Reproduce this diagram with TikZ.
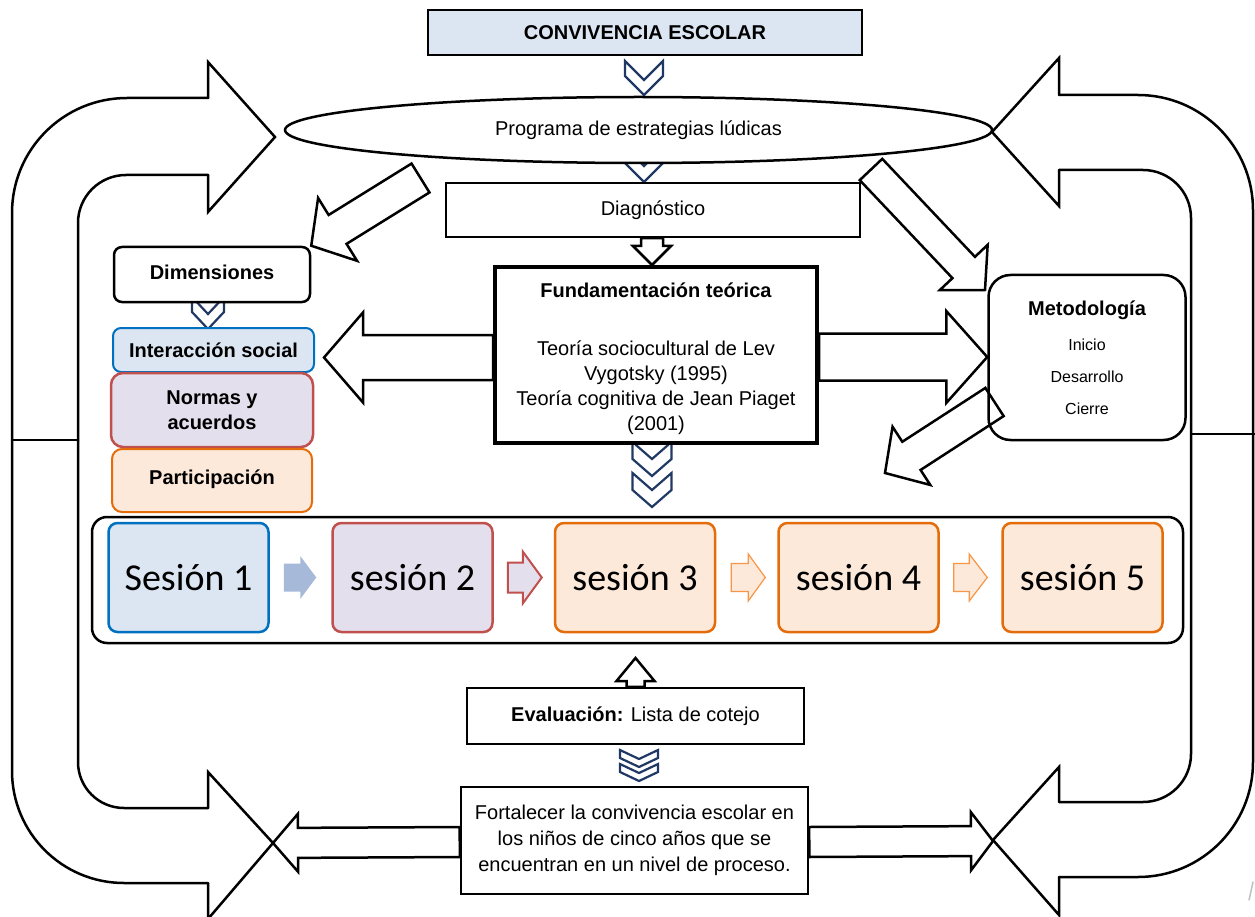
\documentclass[tikz,border=0pt]{standalone}
\usepackage{fontspec}
\setmainfont{Liberation Sans}
\newfontfamily\calibfont{Carlito}
\usepackage{tikz}
\usetikzlibrary{calc,shapes.geometric}
\definecolor{blueF}{RGB}{220,230,242}
\definecolor{blueD}{RGB}{0,112,192}
\definecolor{redD}{RGB}{192,80,77}
\definecolor{lilaF}{RGB}{228,223,236}
\definecolor{orangeD}{RGB}{228,108,10}
\definecolor{orangeF}{RGB}{253,233,217}
\definecolor{orangeL}{RGB}{247,150,70}
\definecolor{arrowB}{RGB}{167,185,216}
\definecolor{navy}{RGB}{31,56,100}
\tikzset{
  box/.style={draw=black,line width=2.5pt,fill=white,inner sep=0pt,align=center},
  rbox/.style={box,rounded corners=10pt},
  sesbox/.style={draw,line width=2.5pt,rounded corners=9pt,inner sep=0pt,minimum width=160pt,minimum height=109pt,font=\calibfont\fontsize{38}{40}\selectfont},
  barr/.style={draw=black,line width=2.5pt},
  bigarr/.style={draw=black,line width=2.5pt},
  chevron/.style={draw=navy,line width=2.2pt,fill=white,line join=miter}
}
\newcommand{\blockarr}[6][]{%
  \coordinate (ba-n) at ($#3!#6!#2$);
  \draw[barr,#1] ($#2!#4!90:#3$) -- ($(ba-n)!#4!90:#3$) -- ($(ba-n)!#5!90:#3$) -- #3 -- ($(ba-n)!#5!-90:#3$) -- ($(ba-n)!#4!-90:#3$) -- ($#2!#4!-90:#3$) -- cycle;}
\newcommand{\chev}[5]{\draw[chevron] ({#1-#3},#2) -- (#1,{#2+#5}) -- ({#1+#3},#2) -- ({#1+#3},{#2+#4}) -- (#1,{#2+#4+#5}) -- ({#1-#3},{#2+#4}) -- cycle;}

\begin{document}
\begin{tikzpicture}[x=1pt,y=-1pt,line cap=round,font=\fontsize{20}{25}\selectfont]
\useasboundingbox (0,0) rectangle (1255,917);

\draw[bigarr,rounded corners=115pt] (12,440) -- (12,98) -- (208,98);
\draw[bigarr] (208,98) -- (208,62) -- (275,137) -- (208,212) -- (208,175);
\draw[bigarr,rounded corners=48pt] (208,175) -- (78,175) -- (78,440);
\draw[bigarr] (12,440) -- (78,440);
\draw[bigarr,rounded corners=112pt] (12,440) -- (12,883) -- (208,883);
\draw[bigarr] (208,883) -- (208,919) -- (273,843) -- (208,772) -- (208,808);
\draw[bigarr,rounded corners=46pt] (208,808) -- (78,808) -- (78,440);

\draw[bigarr,rounded corners=115pt] (1253,434) -- (1253,95) -- (1059,95);
\draw[bigarr] (1059,95) -- (1059,58) -- (992,132) -- (1059,206) -- (1059,170);
\draw[bigarr,rounded corners=48pt] (1059,170) -- (1191,170) -- (1191,434);
\draw[bigarr] (1191,434) -- (1255,434);
\draw[bigarr,rounded corners=115pt] (1253,434) -- (1253,877) -- (1059,877);
\draw[bigarr] (1059,877) -- (1059,915) -- (993,840) -- (1059,767) -- (1059,802);
\draw[bigarr,rounded corners=48pt] (1059,802) -- (1191,802) -- (1191,434);

\chev{644}{61}{19}{15}{19}
\chev{644}{147}{19}{16}{19}
\chev{652}{442}{19.5}{17}{17}
\chev{652}{473}{19.5}{17}{17}
\chev{639}{750}{19}{8}{9}
\chev{639}{764}{19}{8}{9}
\chev{208}{297}{16}{15}{17}

\node[box,fill=blueF,minimum width=434pt,minimum height=45pt] (conv) at (645,32.5) {\bfseries CONVIVENCIA ESCOLAR};
\node[draw,ellipse,line width=2.5pt,fill=white,inner sep=0pt,minimum width=707pt,minimum height=66pt] (prog) at (638.5,130) {\raisebox{-2pt}{Programa de estrategias lúdicas}};
\node[box,minimum width=414pt,minimum height=54pt] (diag) at (653,210) {\raisebox{4pt}{Diagnóstico}};
\node[box,line width=4pt,minimum width=322pt,minimum height=176pt] (fund) at (656,355) {\rule{0pt}{23pt}\textbf{Fundamentación teórica}\\[33pt]Teoría sociocultural de Lev\\Vygotsky (1995)\\Teoría cognitiva de Jean Piaget\\(2001)};
\node[rbox,rounded corners=8pt,minimum width=196pt,minimum height=55pt] (dim) at (212,274.5) {\raisebox{4pt}{\bfseries Dimensiones}};
\node[rbox,rounded corners=8pt,line width=2pt,draw=blueD,fill=blueF,minimum width=201pt,minimum height=44pt] (inter) at (213.5,350) {\bfseries Interacción social};
\node[rbox,rounded corners=12pt,draw=redD,fill=lilaF,minimum width=202pt,minimum height=74pt] (norm) at (212,410) {\bfseries Normas y\\\bfseries acuerdos};
\node[rbox,rounded corners=10pt,line width=2pt,draw=orangeD,fill=orangeF,minimum width=200pt,minimum height=63pt] (part) at (212,480.5) {\raisebox{6pt}{\bfseries Participación}};
\node[rbox,rounded corners=22pt,minimum width=197pt,minimum height=165pt,font=\fontsize{16}{32}\selectfont] (metod) at (1087,357.5) {{\fontsize{20}{25}\selectfont\bfseries Metodología}\\[3.5pt]Inicio\\Desarrollo\\Cierre};

\node[rbox,rounded corners=15pt,minimum width=1091pt,minimum height=126pt] (frame) at (637.5,580) {};
\node[sesbox,draw=blueD,fill=blueF] (s1) at (188.5,577.5) {Sesión 1};
\node[sesbox,draw=redD,fill=lilaF] (s2) at (412.5,577.5) {sesión 2};
\node[sesbox,draw=orangeD,fill=orangeF] (s3) at (635,577.5) {sesión 3};
\node[sesbox,draw=orangeD,fill=orangeF] (s4) at (858.5,577.5) {sesión 4};
\node[sesbox,draw=orangeD,fill=orangeF] (s5) at (1082.5,577.5) {sesión 5};

\node[box,minimum width=337pt,minimum height=56pt] (eval) at (635.5,716) {\raisebox{2pt}{\textbf{Evaluación:} Lista de cotejo}};
\node[box,minimum width=347pt,minimum height=107pt,font=\fontsize{20}{26}\selectfont] (fort) at (634.5,840.5) {Fortalecer la convivencia escolar en\\los niños de cinco años que se\\encuentran en un nivel de proceso.};

\blockarr[draw=none,fill=arrowB]{([xshift=14pt]s1.east)}{([xshift=-15pt]s2.west)}{14pt}{21.5pt}{16pt}
\blockarr[draw=redD,fill=lilaF,line width=2pt]{([xshift=14pt]s2.east)}{([xshift=-12pt]s3.west)}{15pt}{26pt}{19pt}
\blockarr[draw=orangeL,fill=orangeF,line width=1.2pt]{([xshift=15pt]s3.east)}{([xshift=-12pt]s4.west)}{14pt}{23.5pt}{17pt}
\blockarr[draw=orangeL,fill=orangeF,line width=1.2pt]{([xshift=14pt]s4.east)}{([xshift=-14pt]s5.west)}{14pt}{23.5pt}{18pt}

\blockarr{(652,0 |- diag.south)}{(652,0 |- fund.north)}{11pt}{19pt}{19pt}
\blockarr{(fund.west |- 0,357.5)}{(324,357.5)}{22.5pt}{45pt}{39pt}
\blockarr{(fund.east |- 0,357)}{(metod.west |- 0,357)}{23.5pt}{46pt}{41pt}
\blockarr{(420.5,178)}{(dim.north east)}{17pt}{37pt}{31pt}
\blockarr{(871,169.5)}{(985,290)}{15.5pt}{33pt}{31pt}
\blockarr{(994.5,402)}{(885,473)}{16.8pt}{34.7pt}{31.5pt}
\blockarr{(eval.north)}{(eval.north |- 0,658)}{9pt}{19pt}{23pt}
\blockarr{(fort.west |- 0,842)}{(273,843)}{15pt}{29pt}{25pt}
\blockarr{(fort.east |- 0,842)}{(993,841)}{15pt}{29pt}{22pt}

\draw[gray!50,line width=1.5pt] (1253,882) -- (1249,900);
\end{tikzpicture}
\end{document}
